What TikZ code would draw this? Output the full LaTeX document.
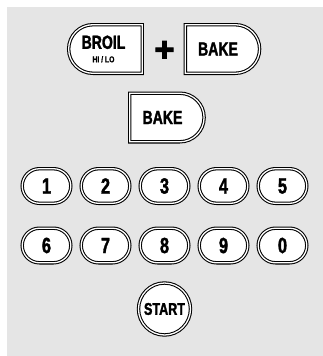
\documentclass[tikz,border=0pt]{standalone}
\usepackage{fontspec}
\newfontfamily\btnfont[FakeStretch=0.74,FakeBold=1.6]{Liberation Sans Bold}
\newfontfamily\smallbtnfont[FakeStretch=0.8,FakeBold=1]{Liberation Sans Bold}
\newfontfamily\plusfont[FakeBold=3]{Liberation Sans Bold}
\usetikzlibrary{shapes.misc}
\definecolor{panelgray}{RGB}{229,229,229}
\begin{document}
\begin{tikzpicture}[x=1pt,y=-1pt,
  btn/.style={draw=black, line width=1.05pt, double=white, double distance=1.3pt, fill=white, inner sep=0pt,
    font=\btnfont\fontsize{19}{13.5}\selectfont},
  numkey/.style={btn, rounded rectangle, minimum width=48.6pt, minimum height=34.6pt,
    font=\btnfont\fontsize{22}{22}\selectfont},
  leftkey/.style={btn, rounded rectangle, rounded rectangle right arc=none, minimum width=73.6pt, minimum height=48.6pt, align=center},
  rightkey/.style={btn, rounded rectangle, rounded rectangle left arc=none, minimum width=74.3pt, minimum height=48.6pt},
  startkey/.style={btn, circle, minimum size=52pt, font=\btnfont\fontsize{17}{17}\selectfont},
]
\useasboundingbox (0,0) rectangle (323,356);
\fill[panelgray] (7,7) rectangle (323,356);
% top row
\node[leftkey] (broil) at (107.5,49) {\hspace*{-8pt}BROIL\\\hspace*{-8pt}{\smallbtnfont\fontsize{8.5}{8.5}\selectfont HI / LO}};
\node[font=\plusfont\fontsize{34}{34}\selectfont, inner sep=0pt] (plus) at (164.5,51) {+};
\node[rightkey] (bake1) at (222,49) {\hspace*{-8pt}BAKE};
% middle
\node[rightkey] (bake2) at (166.5,117.5) {\hspace*{-8pt}BAKE};
% number keys
\node[numkey] (k1) at (46.5,186) {1};
\node[numkey] (k2) at (105.5,186) {2};
\node[numkey] (k3) at (164.5,186) {3};
\node[numkey] (k4) at (223.5,186) {4};
\node[numkey] (k5) at (282.5,186) {5};
\node[numkey] (k6) at (46.5,245.5) {6};
\node[numkey] (k7) at (105.5,245.5) {7};
\node[numkey] (k8) at (164.5,245.5) {8};
\node[numkey] (k9) at (223.5,245.5) {9};
\node[numkey] (k0) at (282.5,245.5) {0};
% start
\node[startkey] (start) at (164.5,309) {START};
\end{tikzpicture}
\end{document}
